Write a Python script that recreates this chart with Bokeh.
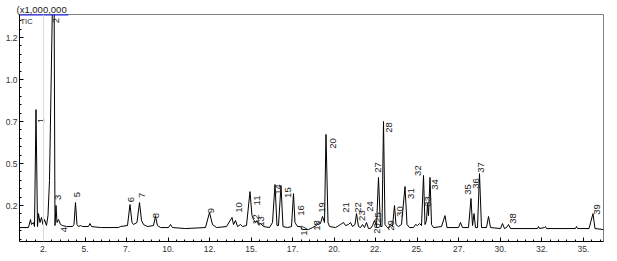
import math
from bokeh.plotting import figure
from bokeh.models import Range1d, FixedTicker, Span, ColumnDataSource, Label
from bokeh.core.properties import value
from bokeh.embed import file_html
from bokeh.resources import INLINE

# ---- chromatogram trace (retention time in min, intensity x1,000,000) ----
rt = [1.056, 1.597, 1.718, 1.778, 1.898, 1.959, 2.049, 2.139, 2.199, 2.289,
      2.380, 2.470, 2.560, 2.681, 2.771, 2.861, 3.072, 3.132, 3.192, 3.253,
      3.313, 3.403, 3.523, 3.644, 3.884, 4.246, 4.336, 4.426, 4.516, 4.607,
      4.727, 4.847, 5.209, 5.299, 5.389, 5.931, 7.014, 7.135, 7.556, 7.706,
      7.827, 7.917, 8.128, 8.278, 8.399, 8.519, 8.760, 9.121, 9.241, 9.361,
      9.542, 10.024, 10.144, 10.264, 11.047, 12.250, 12.491, 12.672, 12.913, 13.514,
      13.846, 13.936, 14.056, 14.177, 14.357, 14.477, 14.718, 14.929, 15.049, 15.139,
      15.260, 15.350, 15.440, 15.561, 15.741, 16.103, 16.283, 16.434, 16.554, 16.644,
      16.795, 16.915, 17.186, 17.427, 17.547, 17.637, 17.788, 17.968, 18.089, 18.450,
      18.691, 18.931, 19.052, 19.172, 19.292, 19.413, 19.503, 19.624, 19.714, 20.075,
      20.376, 20.557, 20.677, 20.858, 20.978, 21.099, 21.249, 21.339, 21.460, 21.580,
      21.700, 21.821, 21.941, 22.061, 22.182, 22.302, 22.422, 22.543, 22.663, 22.783,
      22.874, 22.964, 23.055, 23.145, 23.265, 23.386, 23.506, 23.626, 23.716, 23.867,
      24.048, 24.258, 24.379, 24.529, 24.770, 24.890, 25.011, 25.131, 25.252, 25.372,
      25.462, 25.553, 25.613, 25.673, 25.763, 25.854, 25.973, 26.455, 26.665, 26.786,
      27.478, 27.598, 27.718, 28.080, 28.230, 28.321, 28.411, 28.501, 28.621, 28.742,
      28.862, 29.163, 29.284, 29.404, 30.006, 30.126, 30.247, 30.367, 30.487, 30.608,
      32.233, 32.293, 32.353, 32.654, 32.715, 32.775, 34.520, 34.580, 34.640, 35.334,
      35.572, 35.693, 36.205]
intensity = [0.119, 0.119, 0.167, 0.137, 0.149, 0.125, 0.821, 0.125, 0.202, 0.149,
             0.179, 0.137, 0.167, 0.131, 0.190, 0.399, 1.650, 1.650, 0.131, 0.250,
             0.149, 0.167, 0.137, 0.131, 0.125, 0.125, 0.137, 0.268, 0.137, 0.125,
             0.131, 0.125, 0.125, 0.143, 0.125, 0.119, 0.119, 0.125, 0.131, 0.256,
             0.149, 0.137, 0.149, 0.268, 0.161, 0.137, 0.125, 0.131, 0.185, 0.131,
             0.119, 0.119, 0.137, 0.119, 0.113, 0.119, 0.208, 0.137, 0.119, 0.125,
             0.179, 0.137, 0.161, 0.125, 0.137, 0.125, 0.131, 0.333, 0.190, 0.167,
             0.149, 0.161, 0.137, 0.143, 0.125, 0.119, 0.149, 0.375, 0.131, 0.131,
             0.369, 0.125, 0.119, 0.125, 0.321, 0.149, 0.125, 0.125, 0.107, 0.107,
             0.119, 0.131, 0.149, 0.143, 0.185, 0.149, 0.673, 0.149, 0.125, 0.119,
             0.137, 0.149, 0.131, 0.137, 0.149, 0.125, 0.137, 0.202, 0.125, 0.119,
             0.137, 0.119, 0.149, 0.113, 0.113, 0.131, 0.161, 0.125, 0.417, 0.125,
             0.125, 0.750, 0.137, 0.125, 0.113, 0.137, 0.125, 0.250, 0.137, 0.125,
             0.137, 0.363, 0.137, 0.119, 0.119, 0.137, 0.131, 0.143, 0.131, 0.429,
             0.137, 0.161, 0.262, 0.190, 0.417, 0.137, 0.119, 0.125, 0.190, 0.119,
             0.119, 0.149, 0.119, 0.119, 0.292, 0.131, 0.202, 0.119, 0.119, 0.440,
             0.119, 0.119, 0.185, 0.119, 0.113, 0.143, 0.113, 0.119, 0.137, 0.113,
             0.113, 0.125, 0.113, 0.119, 0.125, 0.113, 0.113, 0.125, 0.113, 0.113,
             0.202, 0.113, 0.107]

# ---- peak labels ----
label_text = [str(i) for i in range(1, 40)]
label_rt = [2.32, 3.28, 3.40, 3.76, 4.49, 7.74, 8.43, 9.30, 12.61, 14.24,
            15.38, 15.32, 15.62, 16.64, 17.19, 17.97, 18.15, 18.99, 19.29, 19.95,
            20.68, 21.40, 21.70, 22.18, 22.66, 22.60, 22.66, 23.32, 23.44, 23.93,
            24.59, 25.07, 25.67, 26.09, 28.02, 28.56, 28.86, 30.73, 35.84]
label_level = [0.756, 1.351, 0.298, 0.107, 0.315, 0.286, 0.310, 0.190, 0.220, 0.238,
               0.280, 0.167, 0.155, 0.345, 0.327, 0.220, 0.101, 0.131, 0.238, 0.619,
               0.238, 0.238, 0.190, 0.244, 0.179, 0.113, 0.476, 0.714, 0.131, 0.214,
               0.321, 0.458, 0.274, 0.375, 0.345, 0.381, 0.476, 0.173, 0.226]

# ---- axes ----
x_ticks = [2.5, 5.0, 7.5, 10.0, 12.5, 15.0, 17.5, 20.0, 22.5, 25.0, 27.5, 30.0, 32.5, 35.0]
x_tick_labels = ["2.", "5.", "7.", "10.", "12.", "15.", "17.", "20.", "22.", "25.",
                 "27.", "30.", "32.", "35."]
y_ticks = [0.25, 0.50, 0.75, 1.00, 1.25]
y_tick_labels = ["0.2", "0.5", "0.7", "1.0", "1.2"]
x_start, x_end = 1.056, 36.205
y_start, y_end = 0.036, 1.387

FONT = "Liberation Sans"

p = figure(width=617, height=261, x_range=Range1d(x_start, x_end),
           y_range=Range1d(y_start, y_end), output_backend="svg",
           toolbar_location=None, min_border_left=19, min_border_right=14,
           min_border_top=14, min_border_bottom=20)
p.background_fill_color = "white"
p.border_fill_color = "white"
p.outline_line_color = "#808080"
p.outline_line_width = 1
p.xgrid.visible = False
p.ygrid.visible = False

# scale factor header, shown above the frame
p.title.text = "(x1,000,000"
p.title.text_font = FONT
p.title.text_font_size = "9.5px"
p.title.text_font_style = "normal"
p.title.text_color = "#222222"
p.title.align = "left"
p.title.offset = -3
p.title.standoff = 0

p.add_layout(Span(location=2.5, dimension="height", line_color="#dcdcdc", line_width=1))

p.line(rt, intensity, line_color="black", line_width=1)

src = ColumnDataSource(dict(x=label_rt, y=label_level, t=label_text))
p.text(x="x", y="y", text="t", source=src, angle=math.pi / 2,
       text_align="center", text_baseline="middle", text_color="#222222",
       text_font=value(FONT), text_font_size="9.5px")

p.add_layout(Label(x=x_start, y=y_end, x_offset=1, y_offset=-2, text="TIC",
                   text_font=FONT, text_font_size="7.5px", text_color="#222222",
                   text_baseline="top", text_align="left"))
p.segment(x0=[x_start], y0=[y_end], x1=[4.0], y1=[y_end], line_color="#1a1aff",
          line_width=2)

xminor = [1.5 + 0.5 * i for i in range(70)]
p.xaxis.ticker = FixedTicker(ticks=x_ticks, minor_ticks=xminor)
p.xaxis.major_label_overrides = dict(zip(x_ticks, x_tick_labels))
yminor = [0.05 * i for i in range(1, 28)]
p.yaxis.ticker = FixedTicker(ticks=y_ticks, minor_ticks=yminor)
p.yaxis.major_label_overrides = dict(zip(y_ticks, y_tick_labels))

for ax in (p.xaxis[0], p.yaxis[0]):
    ax.axis_line_color = "black"
    ax.major_tick_line_color = "black"
    ax.minor_tick_line_color = "black"
    ax.major_tick_out = 0
    ax.major_tick_in = 4
    ax.minor_tick_out = 0
    ax.minor_tick_in = 2
    ax.major_label_text_font = FONT
    ax.major_label_text_font_size = "8.5px"
    ax.major_label_text_color = "#333333"
p.xaxis[0].major_label_standoff = 4
p.yaxis[0].major_label_standoff = 2

open("out.html", "w").write(file_html(p, INLINE))
